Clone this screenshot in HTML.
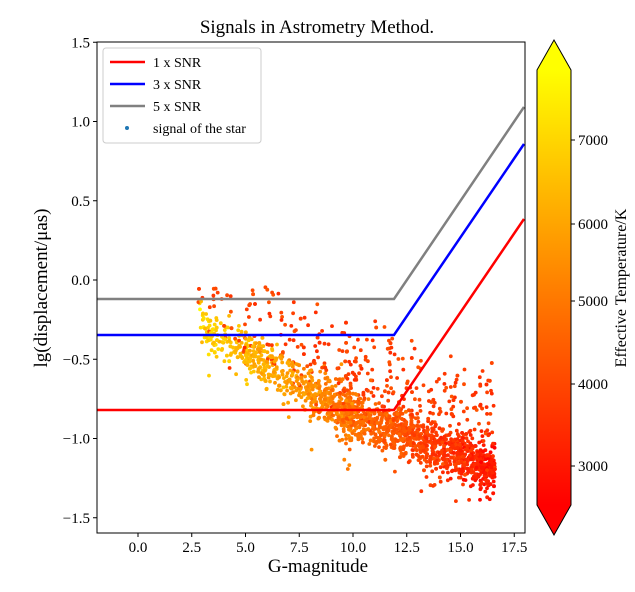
<!DOCTYPE html>
<html><head><meta charset="utf-8"><style>
body{margin:0;background:#fff;}
svg{display:block;font-family:"Liberation Serif","DejaVu Serif",serif;}
</style></head><body>
<svg id="s" width="635" height="592" viewBox="0 0 635 592">
<defs>
<linearGradient id="cb" x1="0" y1="1" x2="0" y2="0">
<stop offset="0" stop-color="#ff0000"/><stop offset="1" stop-color="#ffff00"/>
</linearGradient>
<clipPath id="pc"><rect x="97" y="42" width="428" height="491"/></clipPath>
</defs>
<text x="317" y="33" font-size="19" text-anchor="middle">Signals in Astrometry Method.</text>
<g id="pts" clip-path="url(#pc)"></g>
<g clip-path="url(#pc)" fill="none" stroke-width="2.5">
<polyline points="97,410 394,410 524,219" stroke="#ff0000"/>
<polyline points="97,335 394,335 524,144" stroke="#0000ff"/>
<polyline points="97,299 394,299 524,107" stroke="#808080"/>
</g>
<rect x="97" y="42" width="428" height="491" fill="none" stroke="#000" stroke-width="1"/>
<g font-size="15" text-anchor="end" id="yt"></g>
<g font-size="15" text-anchor="middle" id="xt"></g>
<text x="318" y="572" font-size="19" text-anchor="middle">G-magnitude</text>
<text transform="translate(47,288) rotate(-90)" font-size="19" text-anchor="middle">lg(displacement/μas)</text>
<g>
<rect x="103" y="48" width="158" height="95" rx="3" fill="#fff" stroke="#ccc"/>
<line x1="110" y1="62" x2="145" y2="62" stroke="#ff0000" stroke-width="2.5"/>
<text x="153" y="67" font-size="14">1 x SNR</text>
<line x1="110" y1="84" x2="145" y2="84" stroke="#0000ff" stroke-width="2.5"/>
<text x="153" y="89" font-size="14">3 x SNR</text>
<line x1="110" y1="106" x2="145" y2="106" stroke="#808080" stroke-width="2.5"/>
<text x="153" y="111" font-size="14">5 x SNR</text>
<circle cx="127" cy="128" r="2" fill="#1f77b4"/>
<text x="153" y="133" font-size="14">signal of the star</text>
</g>
<polygon points="537,70 554,40 571,70" fill="#ffff00"/>
<polygon points="537,505 554,535 571,505" fill="#ff0000"/>
<rect x="537" y="70" width="34" height="435" fill="url(#cb)"/>
<polygon points="537,70 554,40 571,70 571,505 554,535 537,505" fill="none" stroke="#000" stroke-width="1"/>
<g font-size="15" id="ct"></g>
<text transform="translate(626,288) rotate(-90)" font-size="16" text-anchor="middle">Effective Temperature/K</text>
</svg>
<script>
var NS="http://www.w3.org/2000/svg";
function el(p,t,a,txt){var e=document.createElementNS(NS,t);for(var k in a)e.setAttribute(k,a[k]);if(txt!==undefined)e.textContent=txt;document.getElementById(p).appendChild(e);}
function X(g){return 138+g*21.5;} function Y(v){return 280-v*158.5;}
[1.5,1.0,0.5,0.0,-0.5,-1.0,-1.5].forEach(function(v){var y=Y(v);el("yt","line",{x1:93,y1:y,x2:97,y2:y,stroke:"#000"});el("yt","text",{x:90,y:y+5},(v<0?"\u2212":"")+Math.abs(v).toFixed(1));});
[0,2.5,5,7.5,10,12.5,15,17.5].forEach(function(v){var x=X(v);el("xt","line",{x1:x,y1:533,x2:x,y2:537,stroke:"#000"});el("xt","text",{x:x,y:552},v.toFixed(1));});
[[7000,140],[6000,224],[5000,301],[4000,384],[3000,466]].forEach(function(t){el("ct","line",{x1:571,y1:t[1],x2:575,y2:t[1],stroke:"#000"});el("ct","text",{x:578,y:t[1]+5},t[0]);});
var seed=12345;function r(){seed=(seed*1103515245+12345)%2147483648;return seed/2147483648;}
function n(){return Math.sqrt(-2*Math.log(r()+1e-9))*Math.cos(6.2832*r());}
function col(T){var f=(T-2530)/(7840-2530);f=Math.max(0,Math.min(1,f));return "rgb(255,"+Math.round(255*f)+",0)";}
for(var i=0;i<2300;i++){
 var g;var u=r();
 if(u<0.06)g=2.8+r()*2.4;else if(u<0.2)g=5+r()*3;else if(u<0.35)g=8+r()*2;else g=9.5+r()*7.2;
 if(g>16.6)g=16.6-r()*0.8;
 var base=g<10?-0.3-(g-3)*0.08:-0.86-(g-10)*0.05;
 var v=base+n()*0.075;
 var T=7000-(g-3)*300+n()*250;
 if(r()<0.18){v+=r()*0.5;T=3400+r()*900;if(v>-0.03)v=-0.03-r()*0.1;}
 if(r()<0.015)v-=r()*0.35;
 el("pts","circle",{cx:X(g).toFixed(1),cy:Y(v).toFixed(1),r:1.9,fill:col(T)});
}
</script>
</body></html>
